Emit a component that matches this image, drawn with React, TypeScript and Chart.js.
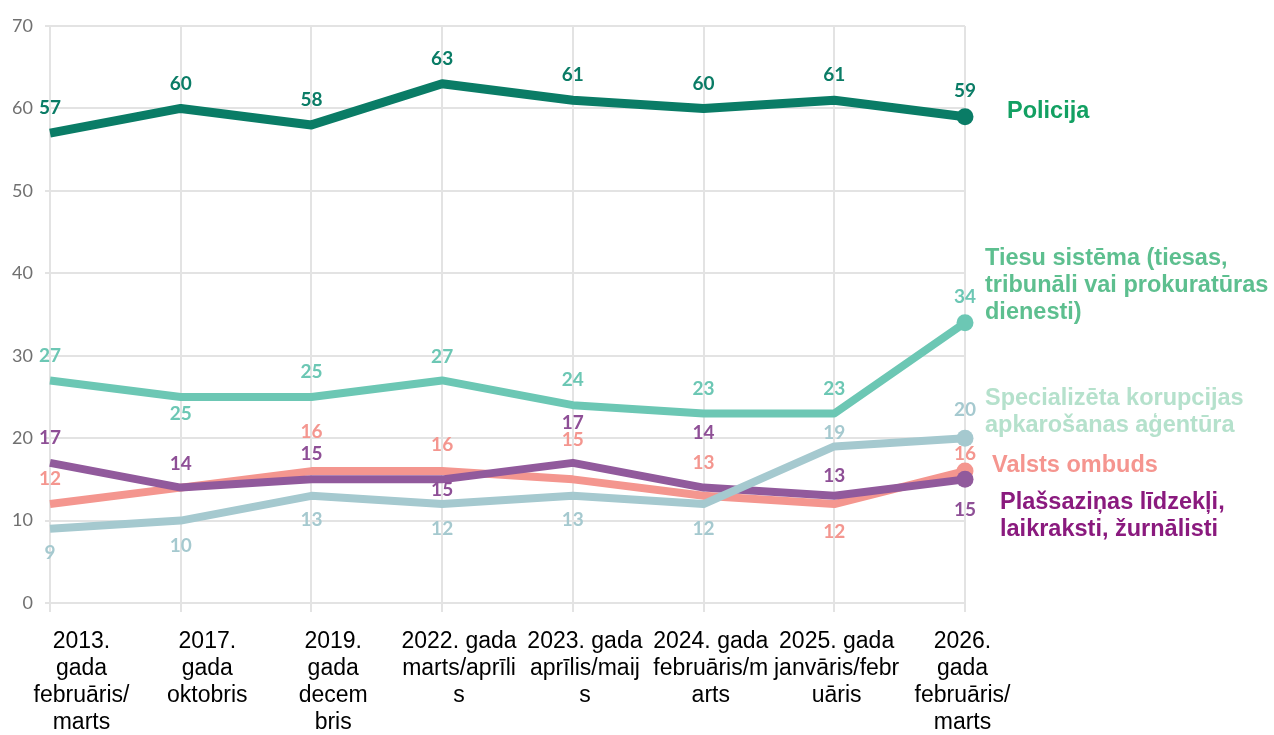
import React, { useEffect, useRef } from "react";
import { Chart, registerables } from "chart.js";

Chart.register(...registerables);

// ---- data ----
const periods = ["2013", "2017", "2019", "2022", "2023", "2024", "2025", "2026"];
const periodLabels: string[][] = [
  ["2013.", "gada", "februāris/", "marts"],
  ["2017.", "gada", "oktobris"],
  ["2019.", "gada", "decem", "bris"],
  ["2022. gada", "marts/aprīli", "s"],
  ["2023. gada", "aprīlis/maij", "s"],
  ["2024. gada", "februāris/m", "arts"],
  ["2025. gada", "janvāris/febr", "uāris"],
  ["2026.", "gada", "februāris/", "marts"],
];
const policija = [57, 60, 58, 63, 61, 60, 61, 59];
const tiesuSistema = [27, 25, 25, 27, 24, 23, 23, 34];
const specializeta = [9, 10, 13, 12, 13, 12, 19, 20];
const plassazinas = [17, 14, 15, 15, 17, 14, 13, 15];
const valstsOmbuds = [12, 14, 16, 16, 15, 13, 12, 16];
const yTicks = [0, 10, 20, 30, 40, 50, 60, 70];

const nameLabels: string[][] = [
  ["Policija"],
  ["Tiesu sistēma (tiesas,", "tribunāli vai prokuratūras", "dienesti)"],
  ["Specializēta korupcijas", "apkarošanas aģentūra"],
  ["Plašsaziņas līdzekļi,", "laikraksti, žurnālisti"],
  ["Valsts ombuds"],
];

// ---- styling (not data) ----
const lineColors = ["#0a7c66", "#6cc7b4", "#a5c9cf", "#915a9c", "#f4968f"];
const valueColors = ["#0a7c66", "#6cc7b4", "#a5c9cf", "#8e4f96", "#f4968f"];
const nameColors = ["#12a062", "#5dbf8f", "#b5e1cc", "#8a1a7e", "#f5958f"];
const lineWidths = [9, 8, 8, 8, 8];
// vertical offsets (px) of value labels from points; null = hidden
const valueOffsets: (number | null)[][] = [
  [-25, -25, -25, -25, -25, -25, -25, -26],
  [-25, 17, -25, -24, -25, -25, -25, -26],
  [24, 25, 24, 25, 24, 25, -14, -28],
  [-25, -24, -25, 11, -40, -55, -20, 31],
  [-25, null, -39, -26, -39, -33, 28, -17],
];
// name label placement: x offset from plot right, y anchor (axis value) of first baseline
const nameDx = [42, 20, 20, 35, 27];
const nameAnchor = [58.8, 41, 24, 11.4, 15.9];
const nameLineGap = 27;

const seriesValues = [policija, tiesuSistema, specializeta, plassazinas, valstsOmbuds];

const valueLabelPlugin = {
  id: "valueLabels",
  afterDatasetsDraw(chart: any) {
    const ctx = chart.ctx;
    ctx.save();
    ctx.font = "700 19px Lato";
    ctx.textAlign = "center";
    ctx.textBaseline = "middle";
    chart.data.datasets.forEach((ds: any, di: number) => {
      const meta = chart.getDatasetMeta(di);
      meta.data.forEach((pt: any, i: number) => {
        const o = valueOffsets[di][i];
        if (o == null) return;
        ctx.fillStyle = valueColors[di];
        ctx.fillText(String(ds.data[i]), pt.x, pt.y + o);
      });
    });
    ctx.restore();
  },
};

const nameLabelPlugin = {
  id: "nameLabels",
  afterDatasetsDraw(chart: any) {
    const ctx = chart.ctx;
    const yScale = chart.scales.y;
    const right = chart.chartArea.right;
    ctx.save();
    ctx.font = "bold 23.5px 'Liberation Sans', Arial, sans-serif";
    ctx.textAlign = "left";
    ctx.textBaseline = "alphabetic";
    nameLabels.forEach((lines, di) => {
      ctx.fillStyle = nameColors[di];
      const y0 = yScale.getPixelForValue(nameAnchor[di]);
      lines.forEach((ln, li) => {
        ctx.fillText(ln, right + nameDx[di], y0 + li * nameLineGap);
      });
    });
    ctx.restore();
  },
};

export default function App() {
  const ref = useRef<HTMLCanvasElement | null>(null);

  useEffect(() => {
    let chart: Chart | null = null;
    let cancelled = false;
    const fontsReady = Promise.all([
      document.fonts.load("700 19px Lato"),
      document.fonts.load("18px Lato"),
      document.fonts.load("23px 'Liberation Sans'"),
      document.fonts.load("bold 23px 'Liberation Sans'"),
    ]).catch(() => null);

    fontsReady.then(() => {
      if (cancelled || !ref.current) return;
      const n = periods.length;
      chart = new Chart(ref.current, {
        type: "line",
        data: {
          labels: periods,
          datasets: seriesValues.map((vals, di) => ({
            label: nameLabels[di].join(" "),
            data: vals,
            borderColor: lineColors[di],
            backgroundColor: lineColors[di],
            borderWidth: lineWidths[di],
            tension: 0,
            fill: false,
            borderJoinStyle: "round" as const,
            borderCapStyle: "butt" as const,
            pointRadius: vals.map((_, i) => (i === n - 1 ? 8.5 : 0)),
            pointHoverRadius: 0,
            pointBorderWidth: 0,
            pointBackgroundColor: lineColors[di],
            clip: false as any,
          })),
        },
        options: {
          animation: false,
          responsive: true,
          maintainAspectRatio: false,
          events: [],
          layout: { padding: { top: 26, right: 309, left: 0, bottom: 0 } },
          plugins: {
            legend: { display: false },
            tooltip: { enabled: false },
          },
          scales: {
            x: {
              type: "category",
              offset: false,
              weight: 0,
              border: { display: false },
              grid: { color: "#e3e3e3", lineWidth: 2, tickLength: 9, offset: false },
              ticks: { display: false },
              afterFit: (s: any) => {
                s.height = 10;
                s.paddingLeft = 0;
                s.paddingRight = 0;
              },
            },
            x2: {
              type: "linear",
              position: "bottom",
              weight: 1,
              min: -0.25,
              max: 7.02,
              border: { display: false },
              grid: { display: false, drawTicks: false },
              afterBuildTicks: (s: any) => {
                s.ticks = periodLabels.map((_, i) => ({ value: i }));
              },
              ticks: {
                autoSkip: false,
                maxRotation: 0,
                minRotation: 0,
                padding: 15,
                color: "#000000",
                font: { family: "'Liberation Sans', Arial, sans-serif", size: 23, lineHeight: 1.174 },
                callback: (v: any) => periodLabels[Math.round(Number(v))] ?? "",
              },
              afterFit: (s: any) => {
                s.height = 122;
                s.paddingLeft = 0;
                s.paddingRight = 0;
              },
            },
            y: {
              type: "linear",
              min: 0,
              max: 70,
              border: { display: false },
              grid: { color: "#e3e3e3", lineWidth: 2, tickLength: 5 },
              afterBuildTicks: (s: any) => {
                s.ticks = yTicks.map((v) => ({ value: v }));
              },
              ticks: {
                padding: 12,
                color: "#707070",
                font: { family: "Lato, sans-serif", size: 18 },
              },
              afterFit: (s: any) => {
                s.width = 50;
              },
            },
          },
        },
        plugins: [valueLabelPlugin, nameLabelPlugin],
      });
    });

    return () => {
      cancelled = true;
      if (chart) chart.destroy();
    };
  }, []);

  return (
    <div style={{ position: "fixed", left: 0, top: 0, width: 1274, height: 735, background: "#ffffff" }}>
      <canvas ref={ref} />
    </div>
  );
}
